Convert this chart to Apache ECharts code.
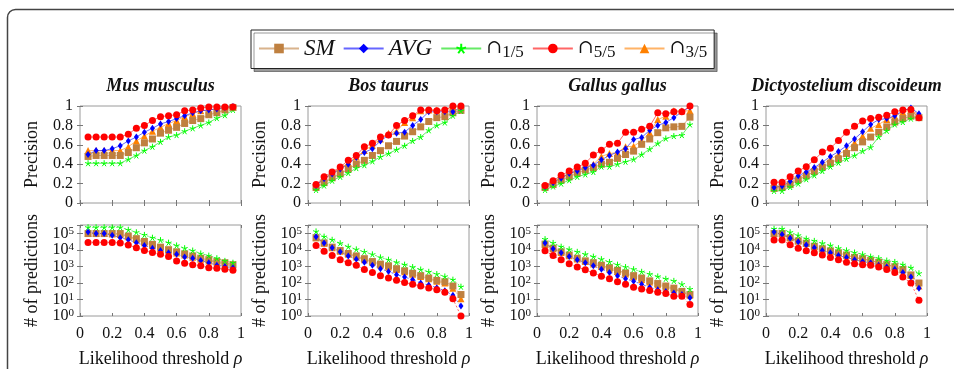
<!DOCTYPE html>
<html><head><meta charset="utf-8">
<script src="https://cdn.jsdelivr.net/npm/echarts@6/dist/echarts.min.js"></script>
<style>html,body{margin:0;padding:0;background:#fff}#c{width:954px;height:369px}</style>
</head><body><div id="c"></div><script>
// ---------- categories / labels ----------
const thresholds = [0.05,0.10,0.15,0.20,0.25,0.30,0.35,0.40,0.45,0.50,0.55,0.60,0.65,0.70,0.75,0.80,0.85,0.90,0.95];
const seriesNames = ['SM','AVG','∩1/5','∩5/5','∩3/5'];
const panelTitles = ['Mus musculus','Bos taurus','Gallus gallus','Dictyostelium discoideum'];
const xTickValues = [0,0.2,0.4,0.6,0.8,1];
const precTickValues = [0,0.2,0.4,0.6,0.8,1];
const predTickExponents = [0,1,2,3,4,5];

// ---------- precision (top row) ----------
const precMusSM  = [0.48,0.49,0.49,0.49,0.49,0.52,0.57,0.62,0.66,0.72,0.75,0.78,0.82,0.85,0.87,0.91,0.93,0.96,0.985];
const precMusAVG = [0.50,0.54,0.54,0.56,0.59,0.64,0.68,0.73,0.77,0.815,0.84,0.87,0.90,0.93,0.95,0.96,0.97,0.985,0.995];
const precMusI15 = [0.41,0.41,0.41,0.41,0.41,0.45,0.49,0.54,0.58,0.63,0.68,0.70,0.74,0.77,0.80,0.83,0.875,0.905,0.96];
const precMusI55 = [0.68,0.68,0.68,0.68,0.68,0.71,0.77,0.80,0.85,0.89,0.90,0.91,0.95,0.96,0.98,0.99,0.99,0.99,0.99];
const precMusI35 = [0.54,0.54,0.54,0.54,0.54,0.58,0.64,0.69,0.74,0.78,0.82,0.85,0.89,0.92,0.95,0.96,0.97,0.98,0.99];

const precBosSM  = [0.16,0.21,0.26,0.30,0.35,0.40,0.44,0.49,0.54,0.59,0.635,0.69,0.735,0.785,0.84,0.88,0.89,0.93,0.955];
const precBosAVG = [0.18,0.25,0.30,0.35,0.40,0.47,0.52,0.56,0.64,0.70,0.72,0.73,0.80,0.86,0.94,0.94,0.94,0.94,0.99];
const precBosI15 = [0.135,0.18,0.23,0.27,0.31,0.36,0.39,0.43,0.475,0.51,0.55,0.59,0.64,0.68,0.75,0.80,0.83,0.90,0.95];
const precBosI55 = [0.19,0.27,0.32,0.37,0.44,0.49,0.58,0.615,0.68,0.70,0.80,0.85,0.90,0.96,0.96,0.95,0.96,1.0,1.0];
const precBosI35 = [0.18,0.25,0.31,0.355,0.415,0.475,0.54,0.595,0.66,0.72,0.74,0.83,0.88,0.95,0.96,0.96,0.96,0.99,0.99];

const precGalSM  = [0.16,0.19,0.235,0.27,0.31,0.34,0.365,0.40,0.42,0.46,0.50,0.535,0.605,0.66,0.725,0.775,0.785,0.79,0.885];
const precGalAVG = [0.17,0.21,0.255,0.305,0.33,0.365,0.39,0.445,0.49,0.525,0.56,0.655,0.675,0.75,0.80,0.83,0.88,0.94,0.99];
const precGalI15 = [0.135,0.17,0.20,0.235,0.27,0.295,0.32,0.375,0.375,0.40,0.425,0.45,0.50,0.555,0.615,0.665,0.69,0.70,0.81];
const precGalI55 = [0.18,0.23,0.285,0.33,0.37,0.41,0.495,0.545,0.605,0.615,0.73,0.73,0.76,0.79,0.93,0.92,0.94,0.94,1.0];
const precGalI35 = [0.17,0.22,0.26,0.30,0.34,0.375,0.40,0.48,0.51,0.52,0.58,0.585,0.64,0.725,0.86,0.895,0.95,0.95,0.95];

const precDicSM  = [0.15,0.16,0.19,0.24,0.28,0.325,0.37,0.41,0.455,0.51,0.57,0.63,0.68,0.73,0.785,0.835,0.87,0.895,0.88];
const precDicAVG = [0.16,0.175,0.225,0.28,0.32,0.365,0.42,0.48,0.53,0.59,0.66,0.735,0.81,0.86,0.87,0.90,0.95,0.98,0.92];
const precDicI15 = [0.125,0.125,0.165,0.20,0.245,0.285,0.33,0.375,0.415,0.455,0.49,0.535,0.575,0.68,0.745,0.81,0.835,0.87,0.885];
const precDicI55 = [0.215,0.215,0.27,0.33,0.375,0.445,0.525,0.565,0.645,0.73,0.79,0.845,0.87,0.885,0.905,0.94,0.96,0.965,0.88];
const precDicI35 = [0.165,0.17,0.21,0.26,0.305,0.355,0.40,0.45,0.50,0.55,0.62,0.69,0.77,0.81,0.86,0.895,0.935,0.96,0.91];

// ---------- # of predictions (bottom row) ----------
const predMusSM  = [100000,100000,100000,100000,100000,71000,49000,33000,22000,15000,10500,7800,5900,4400,3200,2600,2000,1700,1300];
const predMusAVG = [126000,100000,100000,78000,56000,42000,28000,19000,13000,9300,6800,5500,3800,3200,2300,1700,1200,1000,850];
const predMusI15 = [240000,240000,240000,240000,240000,170000,120000,83000,56000,40000,28000,19000,13000,9300,6200,4600,3200,2200,1700];
const predMusI55 = [29000,29000,29000,29000,27000,20000,14000,9500,7100,5500,4000,2200,1600,1300,1100,850,780,690,600];
const predMusI35 = [100000,100000,100000,95000,89000,63000,43000,28000,19000,12600,8900,6600,5000,3700,2800,2200,1800,1400,1100];

const predBosSM  = [56000,27000,15000,9300,6200,4400,3000,2000,1400,1100,740,550,390,280,200,145,120,66,20];
const predBosAVG = [65000,27000,14000,7800,4400,2800,1800,1200,740,500,320,230,160,100,76,52,34,18,4];
const predBosI15 = [135000,65000,42000,26000,16000,11000,7800,5500,3600,2600,1800,1300,930,660,480,350,250,160,60];
const predBosI55 = [19000,8500,4600,2600,1700,1200,660,440,280,200,145,107,83,66,50,39,28,11,1];
const predBosI35 = [56000,26000,14000,8300,5500,3800,2600,1800,1260,930,660,480,340,250,180,126,100,49,11];

const predGalSM  = [23000,13000,7800,5000,3200,2200,1700,1200,850,600,410,280,200,135,93,66,49,31,20];
const predGalAVG = [27000,12000,6800,4000,2600,1700,1100,690,440,280,180,130,83,55,39,31,25,20,13];
const predGalI15 = [46000,27000,16000,11000,7800,5600,4000,2800,1900,1300,930,690,480,350,250,180,135,85,43];
const predGalI55 = [8900,4600,2600,1500,930,630,410,260,180,120,83,55,43,35,28,23,16,16,5];
const predGalI35 = [22000,12000,7100,4500,2900,2000,1400,1000,710,500,350,240,166,115,79,58,42,28,18];

const predDicSM  = [100000,100000,56000,36000,26000,17000,12000,8900,6800,5000,3600,3000,2300,1800,1300,980,660,310,100];
const predDicAVG = [126000,87000,51000,32000,20000,14000,9500,6800,4600,3500,2600,2000,1700,1200,930,690,440,230,49];
const predDicI15 = [195000,195000,120000,78000,49000,36000,26000,19000,13000,9500,7100,5500,4000,3200,2300,1900,1300,850,390];
const predDicI55 = [40000,40000,21000,13000,8900,6800,5000,3500,2600,1800,1500,1300,1200,930,660,440,230,100,9];
const predDicI35 = [98000,95000,55000,35000,25000,16000,11500,8500,6500,4800,3500,2800,2200,1700,1250,930,620,290,66];

// ---------- assembly ----------
const precPanels = [
  [precMusSM,precMusAVG,precMusI15,precMusI55,precMusI35],
  [precBosSM,precBosAVG,precBosI15,precBosI55,precBosI35],
  [precGalSM,precGalAVG,precGalI15,precGalI55,precGalI35],
  [precDicSM,precDicAVG,precDicI15,precDicI55,precDicI35]
];
const predPanels = [
  [predMusSM,predMusAVG,predMusI15,predMusI55,predMusI35],
  [predBosSM,predBosAVG,predBosI15,predBosI55,predBosI35],
  [predGalSM,predGalAVG,predGalI15,predGalI55,predGalI35],
  [predDicSM,predDicAVG,predDicI15,predDicI55,predDicI35]
];

const FONT = 'Liberation Serif';
const STAR = 'path://M5,5L5,0M5,5L0.24,3.45M5,5L2.06,9.05M5,5L7.94,9.05M5,5L9.76,3.45';
const styles = [
  {color:'#bf8040', line:'rgba(191,128,64,0.6)', symbol:'rect', size:7},
  {color:'#0000ff', line:'rgba(0,0,255,0.6)', symbol:'diamond', size:[5,7]},
  {color:'#00ff00', line:'rgba(0,220,0,0.6)', symbol:STAR, size:6, stroke:true},
  {color:'#ff0000', line:'rgba(255,0,0,0.6)', symbol:'circle', size:7},
  {color:'#ff8000', line:'rgba(255,128,0,0.6)', symbol:'triangle', size:7}
];
const drawOrder = [4,0,2,1,3];

const colLefts = [80,308,537,766];
const plotW = 161;
const grids = [], xAxes = [], yAxes = [], series = [], titles = [];
const frameColor = '#9a9a9a';
const tickStyle = {show:true, inside:true, length:3, lineStyle:{color:'#777', width:1}};
const labelStyle = {fontFamily:FONT, fontSize:16, color:'#111'};

function addPanel(row, col) {
  const g = grids.length;
  grids.push({left:colLefts[col], width:plotW, top: row===0?106:225, height: row===0?97:96,
    show:true, borderColor:frameColor, borderWidth:1, backgroundColor:'transparent'});
  const xBase = {type:'value', gridIndex:g, min:0, max:1, interval:0.2, axisLine:{show:false}, splitLine:{show:false}, axisTick:tickStyle};
  xAxes.push(Object.assign({}, xBase, {position:'bottom',
    axisLabel: row===1 ? Object.assign({show:true, margin:10}, labelStyle) : {show:false},
    name: row===1 ? 'Likelihood threshold {i|ρ}' : '', nameLocation:'middle', nameGap:34,
    nameTextStyle:{fontFamily:FONT, fontSize:18, color:'#111', rich:{i:{fontFamily:FONT, fontStyle:'italic', fontSize:18, color:'#111'}}}}));
  xAxes.push(Object.assign({}, xBase, {position:'top', axisLabel:{show:false}}));
  let yBase;
  if (row===0) {
    yBase = {type:'value', gridIndex:g, min:0, max:1, interval:0.2, axisLine:{show:false}, splitLine:{show:false}, axisTick:tickStyle};
    yAxes.push(Object.assign({}, yBase, {position:'left', axisLabel:Object.assign({show:true, margin:7}, labelStyle),
      name:'Precision', nameLocation:'middle', nameGap:39, nameTextStyle:{fontFamily:FONT, fontSize:18, color:'#111'}}));
  } else {
    yBase = {type:'log', logBase:10, gridIndex:g, min:1, max:330000, axisLine:{show:false}, splitLine:{show:false}, axisTick:tickStyle};
    yAxes.push(Object.assign({}, yBase, {position:'left',
      axisLabel:{show:true, margin:6, fontFamily:FONT, fontSize:16, color:'#111',
        formatter: v => { const e = Math.round(Math.log10(v)); return (Math.abs(Math.log10(v)-e) < 1e-6 && predTickExponents.includes(e)) ? '{b|10}{s|' + e + '}' : ''; },
        rich:{b:{fontFamily:FONT, fontSize:16, color:'#111', lineHeight:16, verticalAlign:'bottom'},
              s:{fontFamily:FONT, fontSize:11, color:'#111', lineHeight:11, verticalAlign:'top'}}},
      name:'# of predictions', nameLocation:'middle', nameGap:39, nameTextStyle:{fontFamily:FONT, fontSize:18, color:'#111'}}));
  }
  yAxes.push(Object.assign({}, yBase, {position:'right', axisLabel:{show:false}, name:''}));
  const data = row===0 ? precPanels[col] : predPanels[col];
  drawOrder.forEach(si => {
    const st = styles[si];
    series.push({
      type:'line', name:seriesNames[si], xAxisIndex:2*g, yAxisIndex:2*g,
      data: thresholds.map((t,i) => [t, data[si][i]]),
      symbol:st.symbol, symbolSize:st.size, showSymbol:true, animation:false,
      lineStyle:{color:st.line, width:1, type: row===0 ? 'solid' : [2,2]},
      itemStyle:{color: st.stroke ? 'rgba(0,0,0,0)' : st.color, borderColor:st.color, borderWidth: st.stroke ? 1 : 0, opacity:1},
      emphasis:{disabled:true}
    });
  });
}
for (let r=0;r<2;r++) for (let c=0;c<4;c++) addPanel(r,c);
panelTitles.forEach((t,c) => titles.push({text:t, left: colLefts[c] + plotW/2, top:77, textAlign:'center', padding:0,
  textStyle:{fontFamily:FONT, fontSize:18, fontWeight:'bold', fontStyle:'italic', color:'#111'}}));

const chart = echarts.init(document.getElementById('c'), null, {renderer:'canvas'});
chart.setOption({
  animation:false,
  backgroundColor:'#fff',
  title: titles,
  legend: {
    data: seriesNames, left:251, top:30, orient:'horizontal',
    itemWidth:40, itemHeight:12, itemGap:8,
    padding:[7,7,7,7],
    backgroundColor:'#fff', borderColor:'#222', borderWidth:1,
    shadowColor:'rgba(0,0,0,0.4)', shadowBlur:0, shadowOffsetX:3, shadowOffsetY:3,
    selectedMode:false,
    formatter: n => {
      if (n==='SM' || n==='AVG') return '{it|' + n + '}';
      return '{c|∩}{sub|' + n.slice(1) + '}';
    },
    textStyle:{fontFamily:FONT, fontSize:20, color:'#111',
      rich:{ it:{fontFamily:FONT, fontStyle:'italic', fontSize:23, color:'#111', lineHeight:26, verticalAlign:'middle'},
             c:{fontFamily:'DejaVu Serif', fontSize:19, color:'#111', lineHeight:26, verticalAlign:'middle'},
             sub:{fontFamily:FONT, fontSize:17, color:'#111', lineHeight:16, verticalAlign:'bottom'} }}
  },
  grid: grids, xAxis: xAxes, yAxis: yAxes, series: series,
  graphic: [{type:'rect', shape:{x:7.5, y:9.5, width:1000, height:600, r:8}, style:{fill:'none', stroke:'#444', lineWidth:1.5}, silent:true, z:-10}]
});
</script></body></html>
